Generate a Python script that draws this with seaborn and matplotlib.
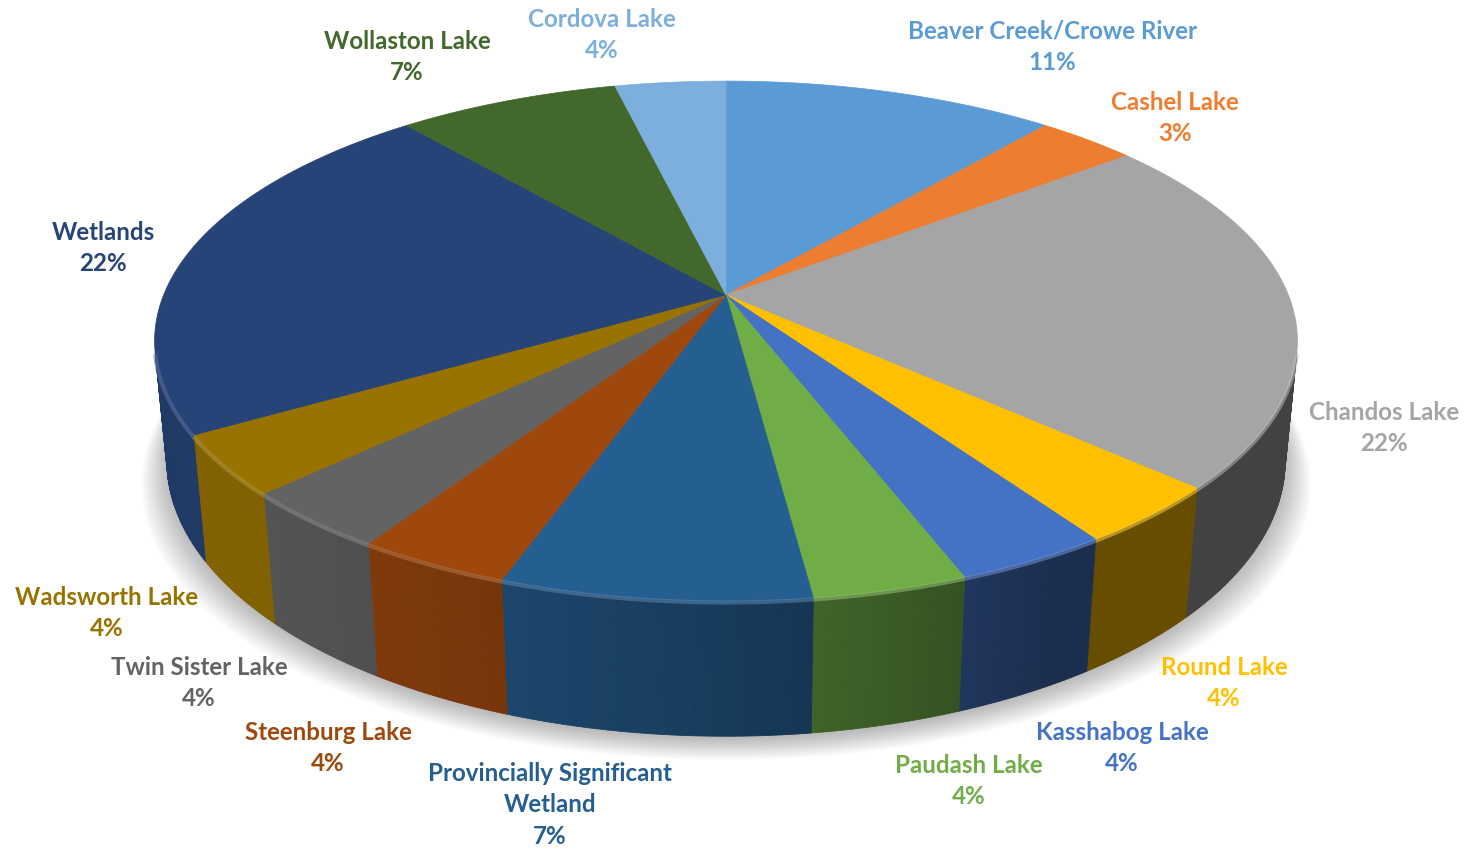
import numpy as np
import matplotlib.pyplot as plt
import seaborn as sns
from matplotlib.patches import Polygon
from matplotlib.collections import PolyCollection
from matplotlib.colors import to_rgb

# data (clockwise from 12 o'clock)
names = ["Beaver Creek/Crowe River", "Cashel Lake", "Chandos Lake", "Round Lake",
         "Kasshabog Lake", "Paudash Lake", "Provincially Significant\nWetland",
         "Steenburg Lake", "Twin Sister Lake", "Wadsworth Lake", "Wetlands",
         "Wollaston Lake", "Cordova Lake"]
values = [3, 0.9, 6, 1, 1, 1, 2, 1, 1, 1, 6, 2, 1]
colors = ["#5B9BD5", "#ED7D31", "#A5A5A5", "#FFC000", "#4472C4", "#70AD47", "#255E91",
          "#9E480E", "#636363", "#997300", "#264478", "#43682B", "#7CAFDD"]

# label block centres (pixels)
label_xy = [(1052, 47), (1175, 118), (1384, 428), (1224, 683), (1122, 748),
            (969, 781), (550, 805), (328, 748), (199, 683), (107, 613),
            (103, 248), (407, 57), (602, 35)]

W, H = 1468, 852
CX, CY = 726, 295
F, DIST, ELEV = 2840, 5.05, np.radians(26.6)
THICK = 0.24
SE, CE = np.sin(ELEV), np.cos(ELEV)


def project(theta, z=0.0):
    x, y = np.cos(theta), np.sin(theta)
    up = y * SE + z * CE
    depth = DIST + y * CE - z * SE
    return CX + F * x / depth, CY - F * up / depth


def shade(theta):
    # light coming from the front left
    return 0.4 + 0.45 * np.maximum(0, np.cos(theta + np.radians(150)))


sns.set_theme(style="white")
plt.rcParams['font.family'] = ['Lato', 'DejaVu Sans']

fig = plt.figure(figsize=(W / 100, H / 100), dpi=100)
ax = fig.add_axes([0, 0, 1, 1])
ax.set_xlim(0, W)
ax.set_ylim(H, 0)
ax.axis('off')

vals = np.array(values, dtype=float)
frac = vals / vals.sum()
cum = np.concatenate([[0], np.cumsum(frac)])
t0 = np.radians(90 - 360 * cum[:-1])
t1 = np.radians(90 - 360 * cum[1:])

# soft shadow under the pie
full = np.linspace(0, 2 * np.pi, 400)
for k in range(14):
    sx, sy = project(full, -THICK)
    sx = CX + (sx - CX) * (1.0 + 0.0035 * k)
    sy = sy + 3 + 1.6 * k
    ax.add_patch(Polygon(np.column_stack([sx, sy]), closed=True, facecolor="#000000",
                         edgecolor="none", alpha=0.018, zorder=1))

# visible outer wall
lim = np.arcsin(-1 / (DIST * CE))
vis_lo, vis_hi = -np.pi - lim, lim
quads, qcols = [], []
rims = []
for i in range(len(values)):
    a, b = t1[i], t0[i]
    base = np.array(to_rgb(colors[i]))
    for off in (0, -2 * np.pi, 2 * np.pi):
        lo, hi = max(a + off, vis_lo), min(b + off, vis_hi)
        if hi <= lo:
            continue
        n = max(2, int(np.degrees(hi - lo) * 2))
        th = np.linspace(lo, hi, n + 1)
        xt, yt = project(th, 0.0)
        xb, yb = project(th, -THICK)
        for j in range(n):
            quads.append([(xt[j], yt[j]), (xt[j + 1], yt[j + 1]),
                          (xb[j + 1], yb[j + 1]), (xb[j], yb[j])])
            qcols.append(np.clip(base * shade(0.5 * (th[j] + th[j + 1])), 0, 1))
        rims.append((th, i))
pc = PolyCollection(quads, facecolors=qcols, edgecolors=qcols, linewidths=0.6, zorder=2)
ax.add_collection(pc)

# top face
for i in range(len(values)):
    th = np.linspace(t0[i], t1[i], 200)
    xs, ys = project(th, 0.0)
    pts = np.column_stack([np.r_[CX, xs], np.r_[CY, ys]])
    ax.add_patch(Polygon(pts, closed=True, facecolor=colors[i], edgecolor=colors[i],
                         linewidth=0.5, zorder=3))

# bevel highlight along the front rim
for th, i in rims:
    base = np.array(to_rgb(colors[i]))
    xs, ys = project(th, 0.0)
    ax.plot(xs, ys + 1.5, color=base * 0.75 + 0.25, lw=3, alpha=0.55,
            solid_capstyle='butt', zorder=4)

# data labels
for i, name in enumerate(names):
    pct = int(round(100 * frac[i]))
    x, y = label_xy[i]
    ax.text(x, y, f"{name}\n{pct}%", ha='center', va='center', color=colors[i],
            fontsize=17.4, fontweight='bold', linespacing=1.45, zorder=5)

fig.savefig("out.png", dpi=100)
